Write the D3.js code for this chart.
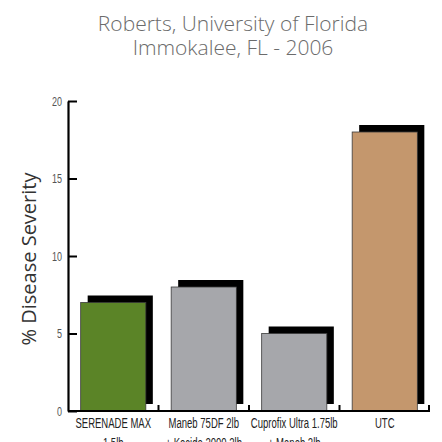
<!DOCTYPE html>
<html>
<head>
<meta charset="utf-8">
<script src="https://cdn.jsdelivr.net/npm/d3@7"></script>
<style>
  body { margin: 0; background: #fff; }
</style>
</head>
<body>
<div id="chart"></div>
<script>
const titleLines = ["Roberts, University of Florida", "Immokalee, FL - 2006"];
const yLabel = "% Disease Severity";
const treatments = [
  ["SERENADE MAX", "1.5lb"],
  ["Maneb 75DF 2lb", "+ Kocide 2000 2lb"],
  ["Cuprofix Ultra 1.75lb", "+ Maneb 2lb"],
  ["UTC"]
];
const severity = [7, 8, 5, 18];
const barColors = ["#5b8427", "#a6a7ab", "#a6a7ab", "#c4976d"];
const yTicks = [0, 5, 10, 15, 20];

const W = 442, H = 442;
const margin = { top: 101, right: 12, bottom: 31, left: 68 };
const innerW = W - margin.left - margin.right;
const innerH = H - margin.top - margin.bottom;
// no condensed font installed, so squeeze Liberation Sans horizontally
const narrow = "'Liberation Sans', Arial, sans-serif";
const squeeze = 0.68;

const svg = d3.select("#chart").append("svg")
  .attr("width", W)
  .attr("height", H);

// title
svg.append("g")
  .selectAll("text")
  .data(titleLines)
  .join("text")
  .attr("x", 233)
  .attr("y", (d, i) => 31 + i * 24)
  .attr("text-anchor", "middle")
  .style("font-family", "'Open Sans', sans-serif")
  .style("font-weight", 300)
  .style("font-size", "21px")
  .style("fill", "#6b6b6b")
  .text(d => d);

const x = d3.scaleBand()
  .domain(d3.range(treatments.length))
  .range([0, innerW])
  .paddingInner(0.28)
  .paddingOuter(0.14);

const y = d3.scaleLinear()
  .domain([0, 20])
  .range([innerH, 0]);

const g = svg.append("g")
  .attr("transform", `translate(${margin.left},${margin.top})`);

// shadows
const shift = 7;
g.selectAll("rect.shadow")
  .data(severity)
  .join("rect")
  .attr("class", "shadow")
  .attr("x", (d, i) => x(i) + shift)
  .attr("y", d => y(d) - shift)
  .attr("width", x.bandwidth())
  .attr("height", d => innerH - y(d))
  .attr("fill", "#000");

// bars
g.selectAll("rect.bar")
  .data(severity)
  .join("rect")
  .attr("class", "bar")
  .attr("x", (d, i) => x(i))
  .attr("y", d => y(d))
  .attr("width", x.bandwidth())
  .attr("height", d => innerH - y(d))
  .attr("fill", (d, i) => barColors[i])
  .attr("stroke", "#3a3a3a")
  .attr("stroke-width", 0.8);

// y axis
const yAxis = g.append("g")
  .call(d3.axisLeft(y).tickValues(yTicks).tickSize(0).tickPadding(0));
yAxis.select(".domain").attr("stroke", "#000").attr("stroke-width", 2.2);
yAxis.selectAll(".tick text")
  .attr("x", -6 / 0.72)
  .attr("transform", "scale(0.72,1)")
  .style("font-family", narrow)
  .style("font-size", "12.5px")
  .style("fill", "#555");
yAxis.selectAll(".tick")
  .append("line")
  .attr("x1", 0).attr("x2", 9)
  .attr("stroke", "#000")
  .attr("stroke-width", 2);

// x axis baseline with upward ticks at band edges
const edges = d3.range(1, treatments.length + 1)
  .map(i => x(i - 1) + x.bandwidth() + x.step() * x.paddingInner() / 2);
const xg = g.append("g").attr("transform", `translate(0,${innerH})`);
xg.append("line")
  .attr("x1", 0).attr("x2", innerW)
  .attr("stroke", "#000")
  .attr("stroke-width", 2.2);
xg.selectAll("line.tick")
  .data(edges)
  .join("line")
  .attr("class", "tick")
  .attr("x1", d => Math.min(d, innerW - 1)).attr("x2", d => Math.min(d, innerW - 1))
  .attr("y1", 0).attr("y2", -6)
  .attr("stroke", "#000")
  .attr("stroke-width", 2);

// category labels
const cats = xg.selectAll("g.cat")
  .data(treatments)
  .join("g")
  .attr("class", "cat")
  .attr("transform", (d, i) => `translate(${x(i) + x.bandwidth() / 2},0) scale(${squeeze},1)`);
cats.append("text")
  .attr("text-anchor", "middle")
  .style("font-family", narrow)
  .style("font-size", "14px")
  .style("fill", "#222")
  .selectAll("tspan")
  .data(d => d)
  .join("tspan")
  .attr("x", 0)
  .attr("y", (d, j) => 17.5 + j * 20)
  .text(d => d);

// y label
svg.append("text")
  .attr("transform", `translate(36,259) rotate(-90)`)
  .attr("text-anchor", "middle")
  .style("font-family", "'Open Sans', sans-serif")
  .style("font-size", "20px")
  .style("fill", "#333")
  .text(yLabel);
</script>
</body>
</html>
